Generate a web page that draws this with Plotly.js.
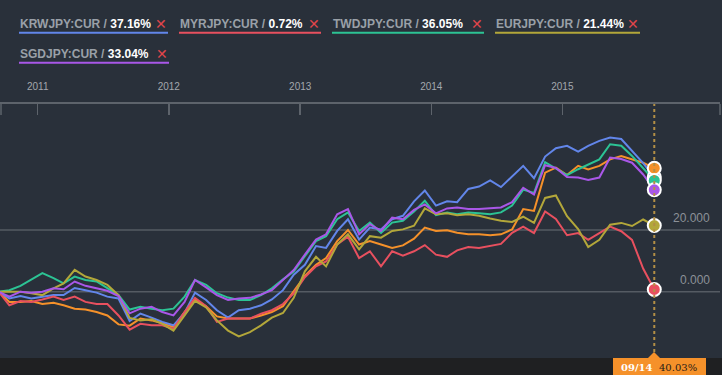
<!DOCTYPE html>
<html>
<head>
<meta charset="utf-8">
<script src="https://cdn.plot.ly/plotly-3.0.1.min.js"></script>
<style>
  html, body { margin: 0; padding: 0; background: #29303a; }
  #chart { width: 722px; height: 375px; }
</style>
</head>
<body>
<div id="chart"></div>
<script>
// ---------- DATA ----------
const dates = [
  '2010-09-14','2010-10-14','2010-11-14','2010-12-14',
  '2011-01-14','2011-02-14','2011-03-14','2011-04-14','2011-05-14','2011-06-14','2011-07-14','2011-08-14','2011-09-14','2011-10-14','2011-11-14','2011-12-14',
  '2012-01-14','2012-02-14','2012-03-14','2012-04-14','2012-05-14','2012-06-14','2012-07-14','2012-08-14','2012-09-14','2012-10-14','2012-11-14','2012-12-14',
  '2013-01-14','2013-02-14','2013-03-14','2013-04-14','2013-05-14','2013-06-14','2013-07-14','2013-08-14','2013-09-14','2013-10-14','2013-11-14','2013-12-14',
  '2014-01-14','2014-02-14','2014-03-14','2014-04-14','2014-05-14','2014-06-14','2014-07-14','2014-08-14','2014-09-14','2014-10-14','2014-11-14','2014-12-14',
  '2015-01-14','2015-02-14','2015-03-14','2015-04-14','2015-05-14','2015-06-14','2015-07-14','2015-08-14','2015-09-14'
];

const krwjpy = [0, -2.2, -1.4, -2.2, -1.6, -1.1, -1.1, 1.2, 0.5, -0.3, -1.6, -2.2,
  -9.5, -7.1, -8.4, -9.8, -10.9, -6.9, -0.3, -2.7, -6.0, -8.4, -6.0, -5.5,
  -4.4, -2.5, 0.5, 5.5, 8.7, 14.8, 14.2, 19.7, 23.5, 16.9, 20.8, 20.2,
  23.5, 24.6, 29.3, 32.8, 27.9, 29.3, 29.0, 33.3, 34.1, 36.1, 33.9, 37.2,
  40.8, 36.8, 43.8, 46.5, 47.3, 45.4, 47.3, 48.9, 50.0, 49.5, 45.7, 41.7, 37.16];

const myrjpy = [0, -4.4, -3.0, -3.3, -2.5, -1.6, -2.7, -1.6, -3.3, -4.0, -4.0, -7.7,
  -12.3, -10.4, -10.9, -10.9, -12.0, -6.6, -2.0, -4.7, -9.8, -8.7, -8.7, -8.7,
  -7.1, -6.0, -4.0, -0.5, 4.7, 8.2, 9.8, 15.3, 17.8, 10.9, 13.1, 8.2,
  13.1, 11.7, 13.1, 15.1, 12.0, 11.3, 13.4, 14.5, 14.2, 14.8, 15.5, 19.1,
  21.1, 19.0, 26.0, 23.6, 18.3, 19.0, 16.8, 19.0, 21.1, 19.6, 16.8, 7.5, 0.72];

const twdjpy = [0, 0.5, 1.9, 3.8, 6.0, 4.4, 2.7, 4.9, 3.8, 3.3, 1.1, -1.1,
  -5.8, -4.9, -5.5, -6.0, -5.5, -1.6, 3.8, 2.2, -0.5, -1.9, -2.7, -2.7,
  -1.1, 1.1, 4.0, 6.5, 11.5, 16.4, 18.0, 23.5, 25.7, 19.7, 22.4, 19.1,
  22.4, 23.0, 26.0, 29.5, 24.8, 25.7, 25.1, 25.7, 25.4, 25.1, 25.7, 27.9,
  33.1, 32.0, 42.0, 40.0, 37.8, 39.7, 41.3, 42.9, 47.8, 47.3, 44.0, 40.2, 36.05];

const eurjpy = [0, 0, 0, -0.5, -1.1, 1.1, 2.7, 7.1, 4.9, 3.8, 2.2, -1.1,
  -8.5, -9.3, -8.9, -10.4, -12.6, -7.7, -3.0, -5.1, -9.3, -12.6, -14.5, -13.1,
  -10.9, -8.4, -6.9, -2.0, 6.6, 11.3, 8.2, 15.3, 18.6, 13.7, 18.0, 17.5,
  19.7, 20.2, 21.4, 27.0, 25.1, 25.4, 24.8, 25.1, 24.6, 23.7, 23.0, 22.6,
  24.3, 22.3, 30.4, 31.2, 24.5, 20.3, 14.5, 16.8, 21.7, 22.3, 21.3, 23.4, 21.44];

const sgdjpy = [0, -1.6, 0, -0.3, 0, 1.1, 0.8, 3.3, 1.9, 1.1, 0.3, -1.4,
  -7.0, -5.5, -4.9, -6.6, -7.7, -3.3, 3.8, 1.4, -1.1, -2.7, -2.2, -2.0,
  -0.9, 0.5, 3.8, 7.0, 12.0, 16.9, 18.6, 25.1, 26.8, 18.6, 21.9, 19.7,
  24.0, 23.5, 26.5, 28.3, 25.4, 27.0, 27.3, 26.8, 26.8, 27.0, 27.3, 29.0,
  33.7, 31.5, 41.0, 40.1, 37.2, 37.0, 36.2, 37.0, 43.5, 43.0, 41.8, 38.0, 33.04];

// main (hovered) symbol, drawn in orange, no legend entry
const mainSeries = [0, -3.3, -3.3, -3.0, -4.0, -3.6, -4.4, -5.5, -5.8, -6.6, -7.7, -10.6,
  -11.0, -8.7, -9.3, -10.2, -11.5, -6.6, -2.5, -4.7, -8.0, -8.7, -8.7, -8.7,
  -7.7, -6.6, -4.7, 0, 5.1, 8.7, 10.9, 16.4, 20.0, 15.3, 16.4, 15.3,
  14.2, 15.0, 17.2, 20.8, 19.7, 19.9, 19.1, 18.6, 18.6, 18.3, 18.6, 20.2,
  26.8, 26.2, 38.6, 40.2, 37.8, 40.8, 39.6, 40.8, 42.9, 44.0, 42.9, 41.8, 40.03];

const seriesNames = ['KRWJPY:CUR', 'MYRJPY:CUR', 'TWDJPY:CUR', 'EURJPY:CUR', 'SGDJPY:CUR'];
const seriesValues = [krwjpy, myrjpy, twdjpy, eurjpy, sgdjpy];

const yearTickVals = ['2011-01-01', '2012-01-01', '2013-01-01', '2014-01-01', '2015-01-01'];
const yearTickText = ['2011', '2012', '2013', '2014', '2015'];
const yTickVals = [0, 20];
const yTickText = ['0.000', '20.000'];
const hoverDateLabel = '09/14';

// ---------- STYLE / LAYOUT ----------
const colors = ['#6286ea', '#e8505f', '#2cc394', '#b3a73a', '#a957e8'];
const mainColor = '#f5912a';
const W = 722, H = 375;
const ML = 0, MR = 2, MT = 104, MB = 17;
const PW = W - ML - MR, PH = H - MT - MB;
const px = v => (v - ML) / PW;
const py = v => (H - MB - v) / PH;

// legend layout (pixel positions)
const legendPos = [
  {x0: 19, x1: 168, row: 0},
  {x0: 179, x1: 321, row: 0},
  {x0: 332, x1: 484, row: 0},
  {x0: 495, x1: 640, row: 0},
  {x0: 19, x1: 169, row: 1}
];
const rowTextY = [24.5, 54.5];
const rowLineY = [32.7, 62.7];

const lastIdx = dates.length - 1;
const lastDate = dates[lastIdx];

const traces = [];
traces.push({
  x: dates, y: mainSeries, type: 'scatter', mode: 'lines',
  line: {color: mainColor, width: 2}, hoverinfo: 'skip', showlegend: false
});
seriesValues.forEach((vals, i) => {
  traces.push({
    x: dates, y: vals, type: 'scatter', mode: 'lines', name: seriesNames[i],
    line: {color: colors[i], width: 2}, hoverinfo: 'skip', showlegend: false
  });
});
// end markers (draw order: blue, orange, green, purple, olive, red)
const markerOrder = [
  {vals: krwjpy, c: colors[0]},
  {vals: mainSeries, c: mainColor},
  {vals: twdjpy, c: colors[2]},
  {vals: sgdjpy, c: colors[4]},
  {vals: eurjpy, c: colors[3]},
  {vals: myrjpy, c: colors[1]}
];
markerOrder.forEach(m => {
  traces.push({
    x: [lastDate], y: [m.vals[lastIdx]], type: 'scatter', mode: 'markers',
    marker: {size: 13, color: m.c, line: {color: '#ffffff', width: 2}},
    cliponaxis: false, hoverinfo: 'skip', showlegend: false
  });
});

const shapes = [];
const annotations = [];

// bottom dark strip
shapes.push({type: 'rect', xref: 'paper', yref: 'paper', x0: -0.01, x1: 1.01, y0: py(H + 2), y1: 0,
  fillcolor: '#1f2022', line: {width: 0}, layer: 'below'});

// horizontal grid lines + labels
yTickVals.forEach((v, i) => {
  shapes.push({type: 'line', xref: 'paper', yref: 'y', x0: 0, x1: 1, y0: v, y1: v,
    line: {color: '#555b63', width: 1.5}, layer: 'below'});
  annotations.push({xref: 'paper', yref: 'y', x: px(712), y: v, xanchor: 'right', yanchor: 'middle',
    yshift: 12, text: yTickText[i], showarrow: false,
    font: {family: 'Liberation Sans, Arial, sans-serif', size: 12, color: '#8c9198'}});
});

// edge ticks of top axis
[1, 720].forEach(xp => {
  shapes.push({type: 'line', xref: 'paper', yref: 'paper', x0: px(xp), x1: px(xp), y0: 1, y1: py(115),
    line: {color: '#5d636b', width: 1.5}});
});

// dotted vertical hover line
shapes.push({type: 'line', xref: 'x', yref: 'paper', x0: lastDate, x1: lastDate, y0: py(352), y1: 1,
  line: {color: '#b38f45', width: 2, dash: 'dot'}});

// tooltip box + pointer
shapes.push({type: 'rect', xref: 'paper', yref: 'paper', x0: px(613), x1: px(706), y0: py(H + 2), y1: py(358),
  fillcolor: mainColor, line: {width: 0}});
shapes.push({type: 'path', xref: 'paper', yref: 'paper',
  path: `M ${px(648)} ${py(358)} L ${px(654)} ${py(352)} L ${px(660)} ${py(358)} Z`,
  fillcolor: mainColor, line: {width: 0}});
annotations.push({xref: 'paper', yref: 'paper', x: px(619), y: py(367), xanchor: 'left', yanchor: 'middle',
  text: '<b>' + hoverDateLabel + '</b>', showarrow: false,
  font: {family: 'DejaVu Serif, serif', size: 10, color: '#ffffff'}});
annotations.push({xref: 'paper', yref: 'paper', x: px(699), y: py(367), xanchor: 'right', yanchor: 'middle',
  text: mainSeries[lastIdx].toFixed(2) + '%', showarrow: false,
  font: {family: 'DejaVu Serif, serif', size: 10, color: '#2a2016'}});

// custom legend
seriesNames.forEach((name, i) => {
  const p = legendPos[i];
  const val = seriesValues[i][lastIdx].toFixed(2) + '%';
  annotations.push({xref: 'paper', yref: 'paper', x: px(p.x0 - 1), y: py(rowTextY[p.row]),
    xanchor: 'left', yanchor: 'middle', showarrow: false,
    text: '<b><span style="color:#9aa0a8">' + name + ' / </span><span style="color:#ffffff">' + val + '</span></b>',
    font: {family: 'Liberation Sans, Arial, sans-serif', size: 12, color: '#9aa0a8'}});
  annotations.push({xref: 'paper', yref: 'paper', x: px(p.x1 + 1), y: py(rowTextY[p.row] - 0.5),
    xanchor: 'right', yanchor: 'middle', showarrow: false, text: '✕',
    font: {family: 'DejaVu Sans, sans-serif', size: 14, color: '#e0454b'}});
  shapes.push({type: 'line', xref: 'paper', yref: 'paper', x0: px(p.x0), x1: px(p.x1),
    y0: py(rowLineY[p.row]), y1: py(rowLineY[p.row]),
    line: {color: colors[i], width: 2}});
});

const layout = {
  width: W, height: H,
  margin: {l: ML, r: MR, t: MT, b: MB, pad: 0},
  paper_bgcolor: '#29303a', plot_bgcolor: '#29303a',
  showlegend: false,
  xaxis: {
    type: 'date', range: ['2010-09-18', '2016-03-15'], side: 'top',
    showgrid: false, zeroline: false,
    showline: true, linecolor: '#5d636b', linewidth: 2,
    ticks: 'inside', ticklen: 11, tickwidth: 1.5, tickcolor: '#5d636b',
    tickmode: 'array', tickvals: yearTickVals, ticktext: yearTickText,
    tickfont: {family: 'Liberation Sans, Arial, sans-serif', size: 10, color: '#a3a7ad'},
    ticklabelstandoff: 8, fixedrange: true
  },
  yaxis: {
    range: [-21.49, 60.84], showgrid: false, zeroline: false, showticklabels: false,
    showline: false, ticks: '', fixedrange: true
  },
  shapes: shapes,
  annotations: annotations
};

Plotly.newPlot('chart', traces, layout, {displayModeBar: false, staticPlot: true});
</script>
</body>
</html>
